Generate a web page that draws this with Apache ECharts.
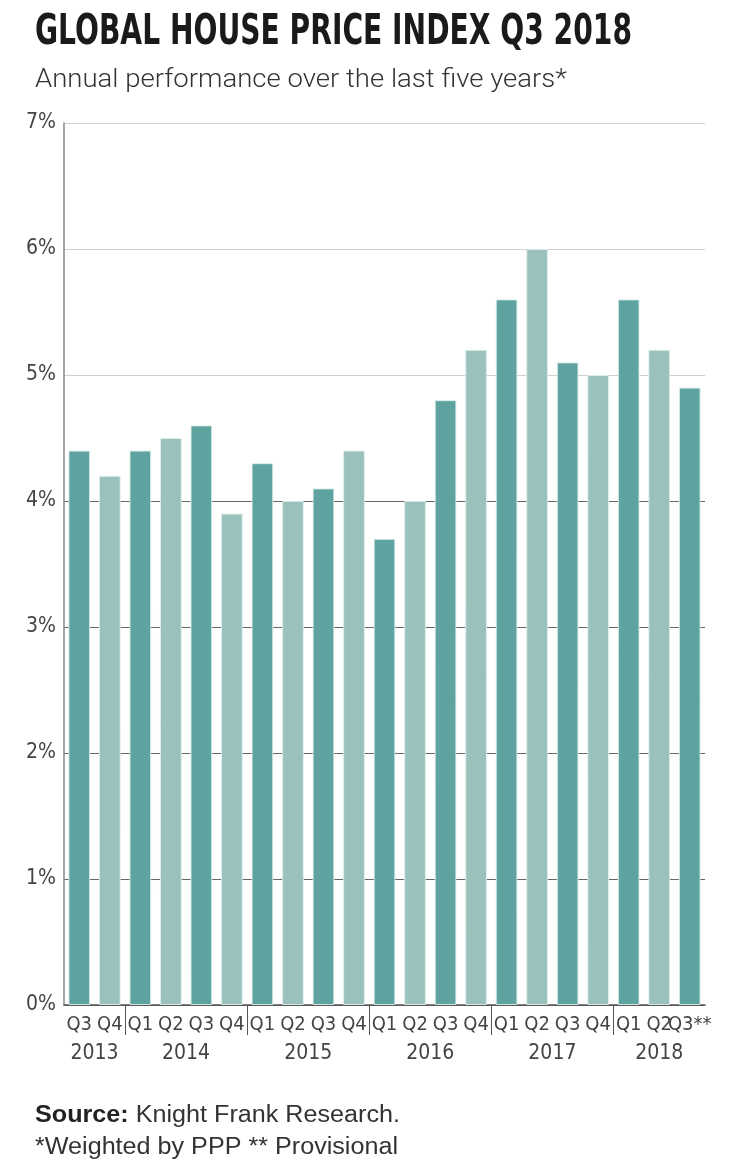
<!DOCTYPE html>
<html>
<head>
<meta charset="utf-8">
<script src="https://cdn.jsdelivr.net/npm/echarts@6/dist/echarts.min.js"></script>
<style>
html,body{margin:0;padding:0;background:#fff;}
#chart{width:748px;height:1176px;}
</style>
</head>
<body>
<div id="chart"></div>
<script>
// ---- data ----
const quarters = ['Q3','Q4','Q1','Q2','Q3','Q4','Q1','Q2','Q3','Q4','Q1','Q2','Q3','Q4','Q1','Q2','Q3','Q4','Q1','Q2','Q3**'];
const values = [4.4,4.2,4.4,4.5,4.6,3.9,4.3,4.0,4.1,4.4,3.7,4.0,4.8,5.2,5.6,6.0,5.1,5.0,5.6,5.2,4.9];
const years = ['2013','2014','2015','2016','2017','2018'];
const quartersPerYear = [2,4,4,4,4,3];

const titleText = 'GLOBAL HOUSE PRICE INDEX Q3 2018';
const subtitleText = 'Annual performance over the last five years*';
const sourceLabel = 'Source:';
const sourceText = ' Knight Frank Research.';
const noteText = '*Weighted by PPP ** Provisional';

const darkTeal = '#5ea39f';
const lightTeal = '#9bc1bd';
const COND = '"DejaVu Sans Condensed", "Liberation Sans Narrow", sans-serif';
const SANS = '"Liberation Sans", Arial, Helvetica, sans-serif';

// year label centres and separators (in category units)
const yearCenters = [];
const separators = [];
let acc = 0;
quartersPerYear.forEach((n, i) => {
  yearCenters.push(acc + n / 2);
  acc += n;
  if (i < quartersPerYear.length - 1) separators.push(acc);
});

// text width measurement to mimic condensed typefaces
const mctx = document.createElement('canvas').getContext('2d');
function measure(text, font) { mctx.font = font; return mctx.measureText(text).width; }

const titleFont = 'bold 42px ' + COND;
const titleScale = 597 / measure(titleText, titleFont);
const subFont = '300 26px Roboto, ' + SANS;
const subScale = 532 / measure(subtitleText, subFont);
const srcBoldFont = 'bold 23.5px ' + SANS;
const srcFont = '23.5px ' + SANS;
const wBold = measure(sourceLabel, srcBoldFont);
const wSrc = measure(sourceText, srcFont);
const srcScale = 365 / (wBold + wSrc);
const noteScale = 363 / measure(noteText, srcFont);

const chart = echarts.init(document.getElementById('chart'));
chart.setOption({
  backgroundColor: '#fff',
  animation: false,
  grid: {left: 64, right: 43, top: 123, bottom: 171, containLabel: false},
  graphic: [
    {type: 'text', x: 35, y: 12, scaleX: titleScale,
     style: {text: titleText, font: titleFont, fill: '#1a1a1a', textVerticalAlign: 'top'}},
    {type: 'text', x: 35, y: 67, scaleX: subScale,
     style: {text: subtitleText, font: subFont, fill: '#333', textVerticalAlign: 'top'}},
    {type: 'text', x: 35, y: 1104, scaleX: srcScale,
     style: {text: sourceLabel, font: srcBoldFont, fill: '#222', textVerticalAlign: 'top'}},
    {type: 'text', x: 35 + wBold * srcScale, y: 1104, scaleX: srcScale,
     style: {text: sourceText, font: srcFont, fill: '#333', textVerticalAlign: 'top'}},
    {type: 'text', x: 35, y: 1136, scaleX: noteScale,
     style: {text: noteText, font: srcFont, fill: '#333', textVerticalAlign: 'top'}}
  ],
  xAxis: [
    {type: 'category', data: quarters, boundaryGap: true,
     axisLine: {show: true, lineStyle: {color: '#555', width: 1.5}},
     axisTick: {show: false},
     axisLabel: {interval: 0, margin: 10, fontFamily: COND, fontSize: 20, color: '#444'}},
    {type: 'value', min: 0, max: quarters.length, position: 'bottom',
     axisLine: {show: false}, splitLine: {show: false},
     axisTick: {show: true, customValues: separators, length: 30, inside: false,
       lineStyle: {color: '#555', width: 1}},
     axisLabel: {customValues: yearCenters, margin: 38, fontFamily: COND, fontSize: 21, color: '#444',
       formatter: (v) => years[yearCenters.indexOf(v)] || ''}}
  ],
  yAxis: {type: 'value', min: 0, max: 7, interval: 1,
    axisLine: {show: true, lineStyle: {color: '#888', width: 1.5}},
    axisTick: {show: false},
    axisLabel: {formatter: '{value}%', margin: 8, fontFamily: COND, fontSize: 21, color: '#444'},
    splitLine: {show: true, lineStyle: {color: ['#666','#666','#666','#666','#666','#cfcfcf','#cfcfcf','#cfcfcf'], width: 1.2}}
  },
  series: [{
    type: 'bar', xAxisIndex: 0, yAxisIndex: 0,
    barCategoryGap: '29%',
    data: values.map((v, i) => ({value: v, itemStyle: {color: i % 2 === 0 ? darkTeal : lightTeal}})),
    itemStyle: {borderColor: 'rgba(220,238,236,0.9)', borderWidth: 1}
  }]
});
</script>
</body>
</html>
